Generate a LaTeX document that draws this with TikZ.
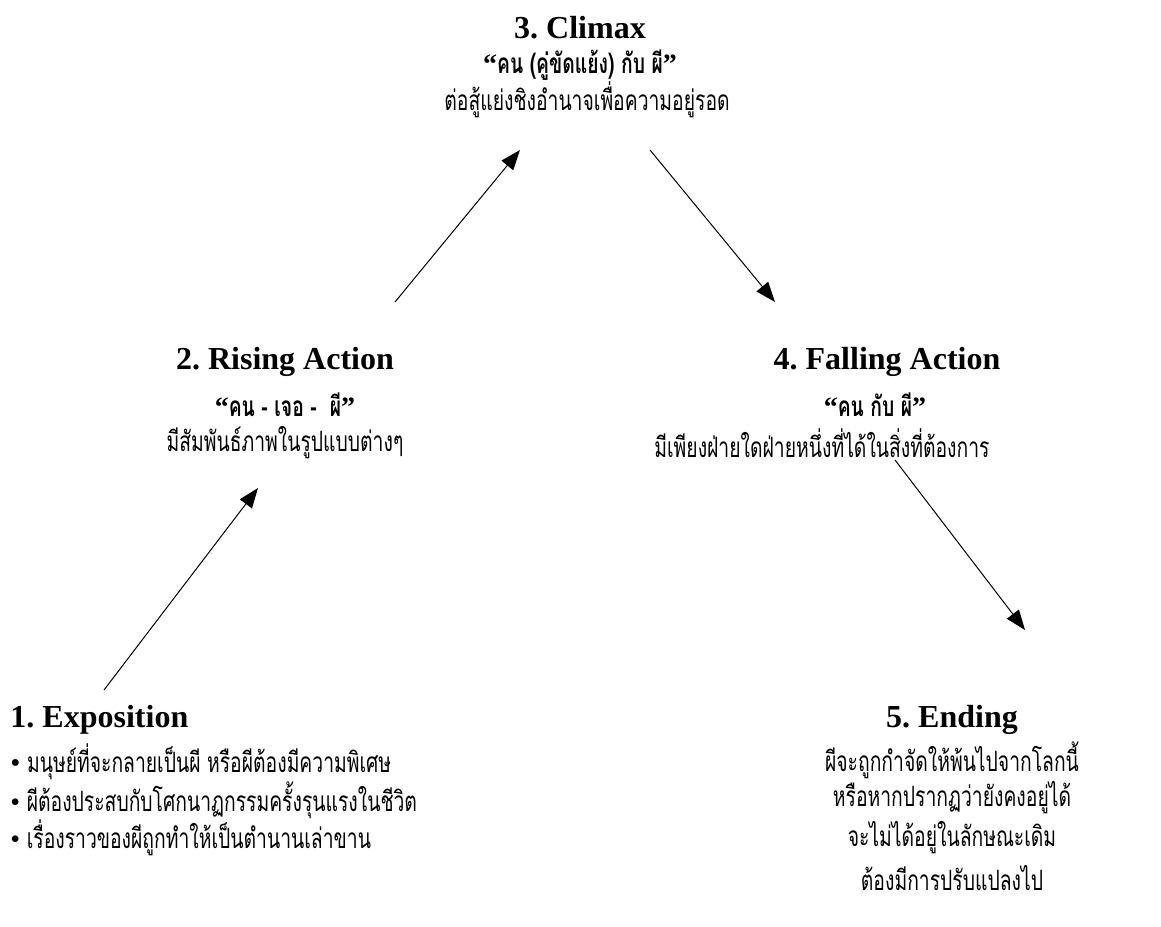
\documentclass[tikz,border=0pt]{standalone}
\usepackage{fontspec}
\setmainfont{Liberation Serif}
\newfontfamily\thaifont[Script=Thai, FakeStretch=0.69]{Loma}
\usetikzlibrary{arrows.meta}
\newcommand{\qt}[1]{{\rmfamily``}#1{\rmfamily''}}
\frenchspacing

\begin{document}
\begin{tikzpicture}[x=0.5pt, y=-0.5pt, >={Triangle[length=10pt,width=7.5pt]}, line width=0.5pt,
  stage/.style={font=\fontsize{16}{18}\selectfont\bfseries, inner sep=0pt},
  pair/.style={font=\fontsize{14}{16}\selectfont\bfseries\thaifont, inner sep=0pt},
  note/.style={font=\fontsize{14}{16}\selectfont\thaifont, inner sep=0pt}]
  \useasboundingbox (0,0) rectangle (1161,926);
  % 3. climax on top
  \node[stage] (climax) at (580,28) {3. Climax};
  \node[pair] (climaxq) at (580,65) {\qt{คน (คู่ขัดแย้ง) กับ ผี}};
  \node[note] (climaxd) at (587,100) {ต่อสู้แย่งชิงอำนาจเพื่อความอยู่รอด};
  % 2. rising action
  \node[stage] (rising) at (285,362) {2. Rising Action};
  \node[pair] (risingq) at (285,405) {\qt{คน - เจอ -\ \ ผี}};
  \node[note] (risingd) at (285,443) {มีสัมพันธ์ภาพในรูปแบบต่างๆ};
  % 4. falling action
  \node[stage] (falling) at (887,362) {4. Falling Action};
  \node[pair] (fallingq) at (875,405) {\qt{คน กับ ผี}};
  \node[note] (fallingd) at (822,443) {มีเพียงฝ่ายใดฝ่ายหนึ่งที่ได้ในสิ่งที่ต้องการ};
  % 1. exposition, left aligned
  \node[stage, anchor=west] (expo) at (10,720) {1. Exposition};
  \node[note, anchor=west] (expo1) at (10,762) {{\rmfamily\Large\textbullet} มนุษย์ที่จะกลายเป็นผี หรือผีต้องมีความพิเศษ};
  \node[note, anchor=west] (expo2) at (10,800) {{\rmfamily\textbullet} ผีต้องประสบกับโศกนาฏกรรมครั้งรุนแรงในชีวิต};
  \node[note, anchor=west] (expo3) at (10,838) {{\rmfamily\textbullet} เรื่องราวของผีถูกทำให้เป็นตำนานเล่าขาน};
  % 5. ending
  \node[stage] (ending) at (952,720) {5. Ending};
  \node[note] (ending1) at (952,760) {ผีจะถูกกำจัดให้พ้นไปจากโลกนี้};
  \node[note] (ending2) at (952,798) {หรือหากปรากฏว่ายังคงอยู่ได้};
  \node[note] (ending3) at (952,838) {จะไม่ได้อยู่ในลักษณะเดิม};
  \node[note] (ending4) at (952,878) {ต้องมีการปรับแปลงไป};
  % arrow ends
  \coordinate (s1) at (104,690); \coordinate (e1) at (258,488);
  \coordinate (s2) at (395,302); \coordinate (e2) at (520,150);
  \coordinate (s3) at (650,150); \coordinate (e3) at (775,302);
  \coordinate (s4) at (895,460); \coordinate (e4) at (1025,630);
  \draw[->] (s1) -- (e1);
  \draw[->] (s2) -- (e2);
  \draw[->] (s3) -- (e3);
  \draw[->] (s4) -- (e4);
\end{tikzpicture}
\end{document}
